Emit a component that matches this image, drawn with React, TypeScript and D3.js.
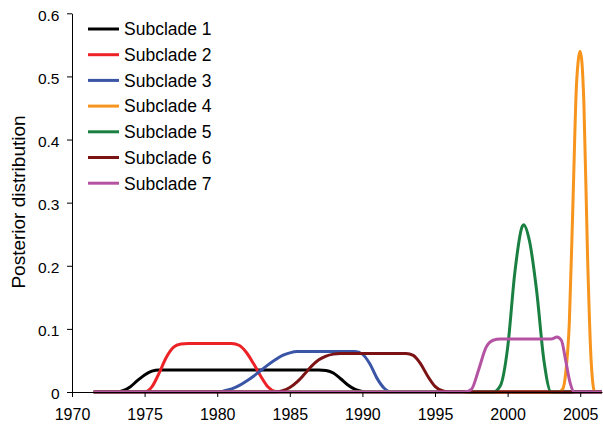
import React, { useEffect, useRef } from "react";
import * as d3 from "d3";

const names = ["Subclade 1", "Subclade 2", "Subclade 3", "Subclade 4", "Subclade 5", "Subclade 6", "Subclade 7"];
const colors = ["#000000", "#ec2227", "#3a55a6", "#f7941e", "#198041", "#7b1214", "#b553a3"];

// [year, posterior]
const subclade1: [number, number][] = [[1971.5, 0], [1973, 0], [1973.5, 0.002], [1974, 0.008], [1974.5, 0.018], [1975, 0.027], [1975.5, 0.033], [1976, 0.035], [1987, 0.035], [1987.5, 0.034], [1988, 0.03], [1988.5, 0.021], [1989, 0.011], [1989.5, 0.004], [1990, 0.001], [1990.5, 0], [2006.5, 0]];
const subclade2: [number, number][] = [[1971.5, 0], [1975, 0], [1975.5, 0.008], [1976, 0.03], [1976.5, 0.055], [1977, 0.071], [1977.5, 0.076], [1978, 0.077], [1981, 0.077], [1981.5, 0.074], [1982, 0.063], [1982.5, 0.045], [1983, 0.025], [1983.5, 0.008], [1984, 0.001], [1984.5, 0], [2006.5, 0]];
const subclade3: [number, number][] = [[1971.5, 0], [1980, 0], [1980.5, 0.002], [1981, 0.005], [1981.5, 0.01], [1982, 0.017], [1982.5, 0.025], [1983, 0.034], [1983.5, 0.043], [1984, 0.051], [1984.5, 0.058], [1985, 0.062], [1985.5, 0.064], [1989.5, 0.064], [1990, 0.06], [1990.5, 0.045], [1991, 0.022], [1991.5, 0.006], [1992, 0], [2006.5, 0]];
const subclade4: [number, number][] = [[1971.5, 0], [2003.5, 0], [2003.8, 0.005], [2004, 0.03], [2004.25, 0.11], [2004.5, 0.3], [2004.75, 0.49], [2005, 0.54], [2005.25, 0.46], [2005.5, 0.22], [2005.75, 0.05], [2006, 0], [2006.5, 0]];
const subclade5: [number, number][] = [[1971.5, 0], [1999, 0], [1999.5, 0.01], [2000, 0.07], [2000.5, 0.19], [2001, 0.262], [2001.1, 0.265], [2001.5, 0.24], [2002, 0.16], [2002.5, 0.05], [2003, 0], [2006.5, 0]];
const subclade6: [number, number][] = [[1971.5, 0], [1984, 0], [1984.5, 0.002], [1985, 0.007], [1985.5, 0.016], [1986, 0.028], [1986.5, 0.041], [1987, 0.051], [1987.5, 0.057], [1988, 0.06], [1988.5, 0.061], [1993, 0.061], [1993.5, 0.058], [1994, 0.045], [1994.5, 0.025], [1995, 0.009], [1995.5, 0.002], [1996, 0], [2006.5, 0]];
const subclade7: [number, number][] = [[1971.5, 0], [1997, 0], [1997.5, 0.004], [1998, 0.035], [1998.5, 0.07], [1999, 0.082], [1999.5, 0.084], [2003, 0.084], [2003.4, 0.087], [2003.7, 0.082], [2004, 0.05], [2004.3, 0.015], [2004.6, 0], [2006.5, 0]];

const series = [subclade1, subclade2, subclade3, subclade4, subclade5, subclade6, subclade7];
const xTicks = [1970, 1975, 1980, 1985, 1990, 1995, 2000, 2005];
const yTicks = [0, 0.1, 0.2, 0.3, 0.4, 0.5, 0.6];

const font = "Liberation Sans, Arial, sans-serif";

export default function App() {
  const svgRef = useRef<SVGSVGElement>(null);
  const width = 603, height = 425;
  const marginLeft = 72, marginRight = 1, marginTop = 13.3, bottom = 392;

  useEffect(() => {
    const svg = d3.select(svgRef.current);
    svg.selectAll("*").remove();

    const x = d3.scaleLinear().domain([1970, 2006.5]).range([marginLeft, width - marginRight]);
    const y = d3.scaleLinear().domain([0, 0.6]).range([bottom, marginTop]);
    const line = d3.line<[number, number]>().x(d => x(d[0])).y(d => y(d[1])).curve(d3.curveMonotoneX);

    // lines
    series.forEach((s, i) => {
      svg.append("path")
        .datum(s)
        .attr("fill", "none")
        .attr("stroke", colors[i])
        .attr("stroke-width", 3)
        .attr("stroke-linejoin", "round")
        .attr("d", line);
    });

    // x axis
    const gx = svg.append("g")
      .attr("transform", `translate(0, ${bottom})`)
      .call(d3.axisBottom(x).tickValues(xTicks).tickSize(5).tickSizeOuter(0).tickFormat(d3.format("d")));
    gx.selectAll("text").attr("y", 17).attr("dy", "0.71em").style("font-size", "16px");

    // y axis
    const gy = svg.append("g")
      .attr("transform", `translate(${marginLeft}, 0)`)
      .call(d3.axisLeft(y).tickValues(yTicks).tickSize(5).tickSizeOuter(0).tickFormat(d => (+d === 0 ? "0" : (+d).toFixed(1))));
    gy.selectAll("text").attr("x", -12.5).attr("y", 2).style("font-size", "15.5px");

    svg.selectAll(".domain, .tick line").attr("stroke", "#000");
    svg.selectAll(".tick text").attr("fill", "#000").style("font-family", font);

    // y label
    svg.append("text")
      .attr("transform", `translate(25, 202) rotate(-90)`)
      .attr("text-anchor", "middle")
      .style("font-size", "19px")
      .style("font-family", font)
      .text("Posterior distribution");

    // legend
    const lg = svg.append("g");
    names.forEach((n, i) => {
      const ly = 29 + i * 25.7;
      lg.append("line").attr("x1", 88).attr("x2", 119).attr("y1", ly).attr("y2", ly)
        .attr("stroke", colors[i]).attr("stroke-width", 3);
      lg.append("text").attr("x", 124).attr("y", ly).attr("dy", "0.36em")
        .style("font-size", "17.5px")
        .style("font-family", font)
        .text(n);
    });
  }, []);

  return (
    <svg ref={svgRef} width={width} height={height} style={{ position: "absolute", left: 0, top: 0, background: "#fff" }} />
  );
}
